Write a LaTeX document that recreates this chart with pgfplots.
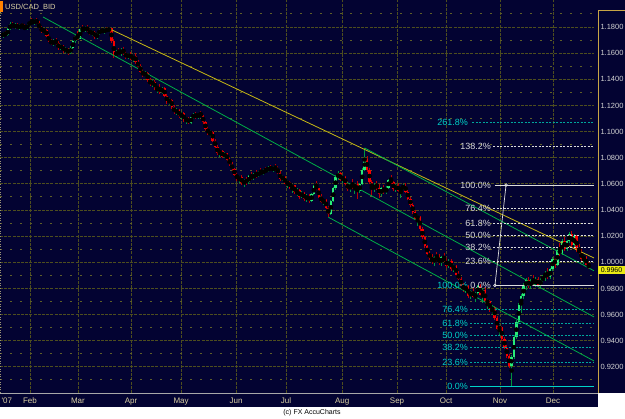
\documentclass[border=0pt]{standalone}
\usepackage{fontspec}
\setmainfont{Liberation Sans}
\usepackage{pgfplots}
\usepackage{pgfplotstable}
\pgfplotsset{compat=1.18}
\pgfdeclarelayer{bg}
\pgfsetlayers{bg,main}

\definecolor{bgnavy}{RGB}{3,3,50}
\definecolor{gridol}{RGB}{78,78,30}
\definecolor{gridmin}{RGB}{95,95,40}
\definecolor{candup}{RGB}{40,235,120}
\definecolor{wickup}{RGB}{0,150,60}
\definecolor{canddn}{RGB}{245,0,0}
\definecolor{wickdn}{RGB}{185,0,0}
\definecolor{trendy}{RGB}{200,185,20}
\definecolor{trendg}{RGB}{0,175,70}
\definecolor{fibw}{RGB}{220,220,220}
\definecolor{fibt}{RGB}{0,210,200}
\definecolor{fibtl}{RGB}{0,165,155}
\definecolor{tanlbl}{RGB}{220,210,165}
\definecolor{gold}{RGB}{200,165,70}
\definecolor{lblgray}{RGB}{210,210,210}
\definecolor{pricey}{RGB}{235,235,20}

% i = trading-day index, o h l c = open high low close
\pgfplotstableread{
i o h l c
0 1.1735 1.1760 1.1718 1.1750
2 1.1738 1.1790 1.1730 1.1782
3 1.1782 1.1835 1.1775 1.1822
5 1.1798 1.1830 1.1785 1.1815
7 1.1792 1.1826 1.1780 1.1810
10 1.1786 1.1822 1.1780 1.1815
11 1.1815 1.1848 1.1805 1.1840
13 1.1830 1.1862 1.1818 1.1855
17 1.1772 1.1795 1.1745 1.1780
21 1.1670 1.1705 1.1655 1.1695
24 1.1640 1.1668 1.1628 1.1655
26 1.1618 1.1645 1.1600 1.1632
28 1.1600 1.1652 1.1590 1.1640
29 1.1640 1.1700 1.1632 1.1690
30 1.1690 1.1745 1.1680 1.1735
32 1.1712 1.1790 1.1705 1.1782
34 1.1772 1.1810 1.1765 1.1802
37 1.1750 1.1778 1.1735 1.1765
39 1.1722 1.1760 1.1705 1.1748
40 1.1748 1.1785 1.1740 1.1775
42 1.1762 1.1790 1.1750 1.1782
44 1.1770 1.1800 1.1762 1.1790
47 1.1580 1.1625 1.1568 1.1612
49 1.1595 1.1638 1.1582 1.1628
52 1.1568 1.1605 1.1555 1.1595
54 1.1555 1.1590 1.1530 1.1580
59 1.1432 1.1462 1.1418 1.1450
62 1.1365 1.1395 1.1345 1.1382
64 1.1330 1.1352 1.1295 1.1340
66 1.1300 1.1345 1.1288 1.1335
69 1.1228 1.1260 1.1205 1.1245
72 1.1148 1.1180 1.1130 1.1165
74 1.1118 1.1150 1.1098 1.1140
76 1.1088 1.1115 1.1060 1.1102
78 1.1068 1.1118 1.1060 1.1108
79 1.1108 1.1140 1.1095 1.1128
81 1.1112 1.1145 1.1098 1.1135
86 1.0985 1.1012 1.0960 1.1000
90 1.0835 1.0862 1.0808 1.0850
92 1.0808 1.0845 1.0795 1.0835
98 1.0638 1.0662 1.0610 1.0650
100 1.0605 1.0640 1.0580 1.0628
102 1.0612 1.0668 1.0602 1.0658
104 1.0642 1.0685 1.0632 1.0675
106 1.0660 1.0700 1.0650 1.0692
108 1.0680 1.0715 1.0665 1.0705
110 1.0695 1.0740 1.0688 1.0728
112 1.0705 1.0738 1.0690 1.0725
116 1.0638 1.0668 1.0620 1.0655
118 1.0602 1.0630 1.0570 1.0618
120 1.0572 1.0600 1.0530 1.0588
122 1.0535 1.0565 1.0505 1.0550
124 1.0500 1.0545 1.0490 1.0532
126 1.0482 1.0520 1.0465 1.0510
128 1.0468 1.0530 1.0460 1.0522
129 1.0522 1.0590 1.0515 1.0580
133 1.0462 1.0488 1.0440 1.0478
136 1.0372 1.0480 1.0360 1.0470
137 1.0470 1.0575 1.0460 1.0565
138 1.0565 1.0665 1.0555 1.0650
139 1.0650 1.0695 1.0630 1.0680
141 1.0632 1.0665 1.0610 1.0652
144 1.0560 1.0610 1.0535 1.0600
146 1.0572 1.0610 1.0520 1.0598
148 1.0545 1.0610 1.0530 1.0600
149 1.0600 1.0720 1.0590 1.0705
150 1.0705 1.0875 1.0695 1.0790
154 1.0560 1.0605 1.0540 1.0592
157 1.0520 1.0575 1.0505 1.0565
159 1.0540 1.0580 1.0520 1.0570
160 1.0570 1.0640 1.0560 1.0630
163 1.0558 1.0600 1.0540 1.0588
165 1.0548 1.0580 1.0495 1.0568
166 1.0568 1.0598 1.0550 1.0585
172 1.0335 1.0362 1.0280 1.0350
179 1.0000 1.0050 0.9975 1.0040
182 0.9995 1.0050 0.9975 1.0038
185 0.9975 1.0025 0.9955 1.0010
187 0.9948 0.9985 0.9925 0.9972
192 0.9790 0.9830 0.9765 0.9818
194 0.9745 0.9790 0.9720 0.9780
196 0.9738 0.9775 0.9700 0.9762
197 0.9762 0.9830 0.9750 0.9818
199 0.9752 0.9800 0.9690 0.9788
201 0.9695 0.9720 0.9640 0.9705
203 0.9635 0.9670 0.9600 0.9655
206 0.9492 0.9520 0.9440 0.9505
211 0.9210 0.9290 0.9054 0.9275
212 0.9275 0.9440 0.9260 0.9425
213 0.9425 0.9560 0.9410 0.9545
214 0.9545 0.9690 0.9530 0.9672
215 0.9672 0.9760 0.9610 0.9740
216 0.9740 0.9842 0.9720 0.9815
217 0.9815 0.9880 0.9790 0.9862
219 0.9815 0.9875 0.9795 0.9860
221 0.9840 0.9885 0.9810 0.9872
223 0.9825 0.9880 0.9805 0.9868
224 0.9868 0.9905 0.9840 0.9890
225 0.9890 0.9935 0.9860 0.9920
227 0.9885 0.9960 0.9875 0.9948
228 0.9948 1.0040 0.9935 1.0025
230 0.9978 1.0110 0.9970 1.0095
232 1.0065 1.0180 1.0055 1.0165
234 1.0105 1.0170 1.0090 1.0160
235 1.0160 1.0230 1.0145 1.0215
237 1.0135 1.0220 1.0110 1.0200
241 1.0025 1.0055 0.9990 1.0040
}\upc

\pgfplotstableread{
i o h l c
1 1.1750 1.1772 1.1728 1.1738
4 1.1822 1.1840 1.1790 1.1798
6 1.1815 1.1828 1.1785 1.1792
8 1.1810 1.1832 1.1792 1.1800
9 1.1800 1.1825 1.1778 1.1786
12 1.1840 1.1868 1.1822 1.1830
14 1.1855 1.1870 1.1820 1.1828
15 1.1828 1.1845 1.1780 1.1790
16 1.1790 1.1810 1.1758 1.1772
18 1.1780 1.1788 1.1722 1.1730
19 1.1730 1.1745 1.1682 1.1695
20 1.1695 1.1712 1.1660 1.1670
22 1.1695 1.1718 1.1662 1.1675
23 1.1675 1.1690 1.1625 1.1640
25 1.1655 1.1662 1.1605 1.1618
27 1.1632 1.1640 1.1588 1.1600
31 1.1735 1.1770 1.1700 1.1712
33 1.1782 1.1815 1.1760 1.1772
35 1.1802 1.1812 1.1762 1.1770
36 1.1770 1.1790 1.1738 1.1750
38 1.1765 1.1772 1.1712 1.1722
41 1.1775 1.1795 1.1755 1.1762
43 1.1782 1.1798 1.1760 1.1770
45 1.1790 1.1795 1.1680 1.1695
46 1.1695 1.1705 1.1560 1.1580
48 1.1612 1.1640 1.1585 1.1595
50 1.1628 1.1645 1.1590 1.1600
51 1.1600 1.1615 1.1555 1.1568
53 1.1595 1.1610 1.1545 1.1555
55 1.1580 1.1598 1.1520 1.1530
56 1.1530 1.1548 1.1488 1.1498
57 1.1498 1.1520 1.1445 1.1458
58 1.1458 1.1480 1.1420 1.1432
60 1.1450 1.1458 1.1380 1.1392
61 1.1392 1.1410 1.1352 1.1365
63 1.1382 1.1392 1.1320 1.1330
65 1.1340 1.1362 1.1290 1.1300
67 1.1335 1.1342 1.1262 1.1272
68 1.1272 1.1285 1.1215 1.1228
70 1.1245 1.1252 1.1175 1.1188
71 1.1188 1.1200 1.1135 1.1148
73 1.1165 1.1175 1.1105 1.1118
75 1.1140 1.1148 1.1075 1.1088
77 1.1102 1.1110 1.1055 1.1068
80 1.1128 1.1150 1.1100 1.1112
82 1.1135 1.1160 1.1110 1.1122
83 1.1122 1.1130 1.1060 1.1072
84 1.1072 1.1080 1.1005 1.1018
85 1.1018 1.1040 1.0975 1.0985
87 1.1000 1.1008 1.0920 1.0932
88 1.0932 1.0945 1.0872 1.0885
89 1.0885 1.0895 1.0820 1.0835
91 1.0850 1.0860 1.0795 1.0808
93 1.0835 1.0840 1.0770 1.0782
94 1.0782 1.0805 1.0740 1.0752
95 1.0752 1.0765 1.0700 1.0712
96 1.0712 1.0725 1.0658 1.0670
97 1.0670 1.0690 1.0625 1.0638
99 1.0650 1.0665 1.0592 1.0605
101 1.0628 1.0650 1.0595 1.0612
103 1.0658 1.0690 1.0630 1.0642
105 1.0675 1.0705 1.0648 1.0660
107 1.0692 1.0720 1.0668 1.0680
109 1.0705 1.0730 1.0685 1.0695
111 1.0728 1.0745 1.0695 1.0705
113 1.0725 1.0750 1.0700 1.0712
114 1.0712 1.0735 1.0672 1.0685
115 1.0685 1.0695 1.0625 1.0638
117 1.0655 1.0662 1.0590 1.0602
119 1.0618 1.0625 1.0560 1.0572
121 1.0588 1.0595 1.0520 1.0535
123 1.0550 1.0558 1.0488 1.0500
125 1.0532 1.0540 1.0470 1.0482
127 1.0510 1.0522 1.0455 1.0468
130 1.0580 1.0625 1.0550 1.0565
131 1.0565 1.0572 1.0490 1.0502
132 1.0502 1.0525 1.0450 1.0462
134 1.0478 1.0485 1.0405 1.0418
135 1.0418 1.0430 1.0345 1.0372
140 1.0680 1.0690 1.0620 1.0632
142 1.0652 1.0660 1.0585 1.0598
143 1.0598 1.0625 1.0545 1.0560
145 1.0600 1.0635 1.0560 1.0572
147 1.0598 1.0620 1.0485 1.0545
151 1.0790 1.0810 1.0690 1.0705
152 1.0705 1.0720 1.0600 1.0615
153 1.0615 1.0630 1.0510 1.0560
155 1.0592 1.0620 1.0555 1.0570
156 1.0570 1.0600 1.0490 1.0520
158 1.0565 1.0590 1.0525 1.0540
161 1.0630 1.0670 1.0600 1.0612
162 1.0612 1.0625 1.0545 1.0558
164 1.0588 1.0605 1.0535 1.0548
167 1.0585 1.0605 1.0530 1.0540
168 1.0540 1.0555 1.0475 1.0488
169 1.0488 1.0500 1.0420 1.0435
170 1.0435 1.0450 1.0370 1.0385
171 1.0385 1.0400 1.0320 1.0335
173 1.0350 1.0355 1.0240 1.0255
174 1.0255 1.0270 1.0175 1.0190
175 1.0190 1.0200 1.0110 1.0125
176 1.0125 1.0135 1.0050 1.0065
177 1.0065 1.0085 1.0020 1.0035
178 1.0035 1.0060 0.9990 1.0000
180 1.0040 1.0080 1.0010 1.0025
181 1.0025 1.0060 0.9980 0.9995
183 1.0038 1.0070 1.0000 1.0012
184 1.0012 1.0030 0.9960 0.9975
186 1.0010 1.0022 0.9935 0.9948
188 0.9972 0.9980 0.9895 0.9905
189 0.9905 0.9930 0.9862 0.9875
190 0.9875 0.9890 0.9810 0.9822
191 0.9822 0.9845 0.9775 0.9790
193 0.9818 0.9825 0.9730 0.9745
195 0.9780 0.9800 0.9725 0.9738
198 0.9818 0.9835 0.9740 0.9752
200 0.9788 0.9810 0.9680 0.9695
202 0.9705 0.9715 0.9620 0.9635
204 0.9655 0.9662 0.9560 0.9575
205 0.9575 0.9590 0.9480 0.9492
207 0.9505 0.9512 0.9400 0.9412
208 0.9412 0.9430 0.9335 0.9348
209 0.9348 0.9365 0.9270 0.9285
210 0.9285 0.9300 0.9190 0.9210
218 0.9862 0.9885 0.9800 0.9815
220 0.9860 0.9900 0.9825 0.9840
222 0.9872 0.9890 0.9810 0.9825
226 0.9920 0.9955 0.9870 0.9885
229 1.0025 1.0050 0.9960 0.9978
231 1.0095 1.0150 1.0050 1.0065
233 1.0165 1.0190 1.0090 1.0105
236 1.0215 1.0240 1.0120 1.0135
238 1.0200 1.0210 1.0080 1.0095
239 1.0095 1.0140 1.0060 1.0075
240 1.0075 1.0100 1.0010 1.0025
242 1.0040 1.0048 0.9968 0.9980
243 0.9980 1.0005 0.9950 0.9962
}\dnc

\begin{document}
\begin{tikzpicture}
\begin{axis}[
  scale only axis, width=594pt, height=393pt,
  xmin=-1.245, xmax=245.2, ymin=0.9, ymax=1.2007,
  axis line style={draw=none}, tick style={draw=none},
  xtick={11.2,31.1,53.1,73.9,96.7,117.4,140.7,163.5,183.8,206.2,228.2},
  xticklabels={Feb,Mar,Apr,May,Jun,Jul,Aug,Sep,Oct,Nov,Dec},
  xticklabel style={font=\fontsize{8}{9}\selectfont, text=tanlbl, anchor=base, yshift=-11pt},
  ytick={0.92,0.94,0.96,0.98,1.00,1.02,1.04,1.06,1.08,1.10,1.12,1.14,1.16,1.18},
  minor ytick={0.91,0.93,0.95,0.97,0.99,1.01,1.03,1.05,1.07,1.09,1.11,1.13,1.15,1.17,1.19},
  yticklabel pos=right,
  yticklabel style={font=\fontsize{7.5}{8}\selectfont, text=lblgray, anchor=west, xshift=3pt,
    /pgf/number format/fixed, /pgf/number format/fixed zerofill, /pgf/number format/precision=4},
  /pgf/number format/assume math mode=true,
  grid=both,
  major grid style={gridol, dash pattern=on 3pt off 1.2pt, line width=0.8pt},
  minor grid style={gridmin, dash pattern=on 1.6pt off 8.4pt, line width=1pt},
]
% wicks
\addplot[only marks, mark=none, forget plot,
  error bars/.cd, y dir=both, y explicit, error mark=none,
  error bar style={draw=wickup, line width=0.9pt}]
  table[x=i, y expr={(\thisrow{h}+\thisrow{l})/2}, y error expr={(\thisrow{h}-\thisrow{l})/2}] {\upc};
\addplot[only marks, mark=none, forget plot,
  error bars/.cd, y dir=both, y explicit, error mark=none,
  error bar style={draw=wickdn, line width=0.9pt}]
  table[x=i, y expr={(\thisrow{h}+\thisrow{l})/2}, y error expr={(\thisrow{h}-\thisrow{l})/2}] {\dnc};
% bodies
\addplot[only marks, mark=none, forget plot,
  error bars/.cd, y dir=both, y explicit, error mark=none,
  error bar style={draw=candup, line width=2.4pt, line cap=butt}]
  table[x=i, y expr={(\thisrow{o}+\thisrow{c})/2}, y error expr={abs(\thisrow{c}-\thisrow{o})/2}] {\upc};
\addplot[only marks, mark=none, forget plot,
  error bars/.cd, y dir=both, y explicit, error mark=none,
  error bar style={draw=canddn, line width=2.4pt, line cap=butt}]
  table[x=i, y expr={(\thisrow{o}+\thisrow{c})/2}, y error expr={abs(\thisrow{c}-\thisrow{o})/2}] {\dnc};

% trend lines
\addplot[trendy, line width=0.8pt] coordinates {(44.4,1.1785) (245.2,1.0033)};
\addplot[trendg, line width=0.8pt] coordinates {(16.6,1.1877) (245.2,0.9582)};
\addplot[trendg, line width=0.8pt] coordinates {(150,1.0875) (245.2,0.9935)};
\addplot[trendg, line width=0.8pt] coordinates {(135,1.0345) (245.2,0.9245)};

% Fibonacci (teal)
\addplot[fibtl, dash pattern=on 2pt off 1.5pt, line width=0.8pt] coordinates {(194.6,1.1067) (245.2,1.1067)};
\addplot[fibtl, dash pattern=on 2pt off 1.5pt, line width=0.8pt] coordinates {(193.8,0.9642) (245.2,0.9642)};
\addplot[fibtl, dash pattern=on 2pt off 1.5pt, line width=0.8pt] coordinates {(193.8,0.9529) (245.2,0.9529)};
\addplot[fibtl, dash pattern=on 2pt off 1.5pt, line width=0.8pt] coordinates {(193.8,0.9439) (245.2,0.9439)};
\addplot[fibtl, dash pattern=on 2pt off 1.5pt, line width=0.8pt] coordinates {(193.8,0.9348) (245.2,0.9348)};
\addplot[fibtl, dash pattern=on 2pt off 1.5pt, line width=0.8pt] coordinates {(193.8,0.9235) (245.2,0.9235)};
\addplot[fibt, line width=0.8pt] coordinates {(193.8,0.9054) (245.2,0.9054)};

% Fibonacci (white)
\addplot[fibw, dash pattern=on 2pt off 1.5pt, line width=0.8pt] coordinates {(203.3,1.0884) (245.2,1.0884)};
\addplot[fibw, line width=0.8pt] coordinates {(204.1,1.0591) (245.2,1.0591)};
\addplot[fibw, dash pattern=on 2pt off 1.5pt, line width=0.8pt] coordinates {(203.3,1.0410) (245.2,1.0410)};
\addplot[fibw, dash pattern=on 2pt off 1.5pt, line width=0.8pt] coordinates {(203.3,1.0298) (245.2,1.0298)};
\addplot[fibw, dash pattern=on 2pt off 1.5pt, line width=0.8pt] coordinates {(203.3,1.0207) (245.2,1.0207)};
\addplot[fibw, dash pattern=on 2pt off 1.5pt, line width=0.8pt] coordinates {(203.3,1.0116) (245.2,1.0116)};
\addplot[fibw, dash pattern=on 2pt off 1.5pt, line width=0.8pt] coordinates {(203.3,1.0004) (245.2,1.0004)};
\addplot[fibw, line width=0.8pt] coordinates {(204.1,0.9823) (245.2,0.9823)};
\addplot[fibw, line width=0.7pt, mark=o, mark size=1.3pt, mark options={solid}] coordinates {(208.7,1.0591) (204.1,0.9823)};

% labels
\begin{scope}[every node/.style={font=\fontsize{9}{10}\selectfont, inner sep=0, anchor=east}]
\node[text=fibt] at (axis cs:193.0,1.1067) {261.8\%};
\node[text=fibt] at (axis cs:193.0,0.9823) {100.0\%};
\node[text=fibt] at (axis cs:193.0,0.9642) {76.4\%};
\node[text=fibt] at (axis cs:193.0,0.9529) {61.8\%};
\node[text=fibt] at (axis cs:193.0,0.9439) {50.0\%};
\node[text=fibt] at (axis cs:193.0,0.9348) {38.2\%};
\node[text=fibt] at (axis cs:193.0,0.9235) {23.6\%};
\node[text=fibt] at (axis cs:193.0,0.9054) {0.0\%};
\node[text=fibw] at (axis cs:202.5,1.0884) {138.2\%};
\node[text=fibw] at (axis cs:202.5,1.0591) {100.0\%};
\node[text=fibw] at (axis cs:202.5,1.0410) {76.4\%};
\node[text=fibw] at (axis cs:202.5,1.0298) {61.8\%};
\node[text=fibw] at (axis cs:202.5,1.0207) {50.0\%};
\node[text=fibw] at (axis cs:202.5,1.0116) {38.2\%};
\node[text=fibw] at (axis cs:202.5,1.0004) {23.6\%};
\node[text=fibw] at (axis cs:202.5,0.9823) {0.0\%};
\end{scope}
\coordinate (O) at (rel axis cs:0,0);
\end{axis}

% frame, drawn relative to the plot box corner O; canvas is 625 x 419, plot box starts at (0,26)
\begin{scope}[shift={(O)}, yshift=-26pt, x=1pt, y=1pt]
\begin{pgfonlayer}{bg}
\fill[white] (0,0) rectangle (625,419);
\fill[bgnavy] (0,26) rectangle (625,419);
\fill[bgnavy] (0,12) rectangle (598,26);
\draw[lblgray!80!black, line width=1pt] (0,25) -- (598,25);
\draw[gold, line width=0.8pt] (598,26) -- (598,409) -- (625,409);
\end{pgfonlayer}
\draw[tanlbl!70!black, dash pattern=on 1pt off 1.6pt, line width=1pt] (0.5,26) -- (0.5,408);
\fill[orange] (0,407) rectangle (3,418);
\node[anchor=base west, font=\fontsize{7.5}{8}\selectfont, text=tanlbl, inner sep=0] at (5,409.5) {USD/CAD\_BID};
\node[anchor=base west, font=\fontsize{8}{9}\selectfont, text=tanlbl, inner sep=0] at (1.5,15) {\textquotesingle07};
\node[font=\fontsize{7}{8}\selectfont, inner sep=0] at (312,6) {(c) FX AccuCharts};
\fill[pricey] (598,145) rectangle (625,152.8);
\node[font=\fontsize{7}{8}\selectfont, text=black, inner sep=0] at (611.5,148.9) {0.9960};
\pgfresetboundingbox
\useasboundingbox (0,0) rectangle (625,419);
\end{scope}
\end{tikzpicture}
\end{document}
